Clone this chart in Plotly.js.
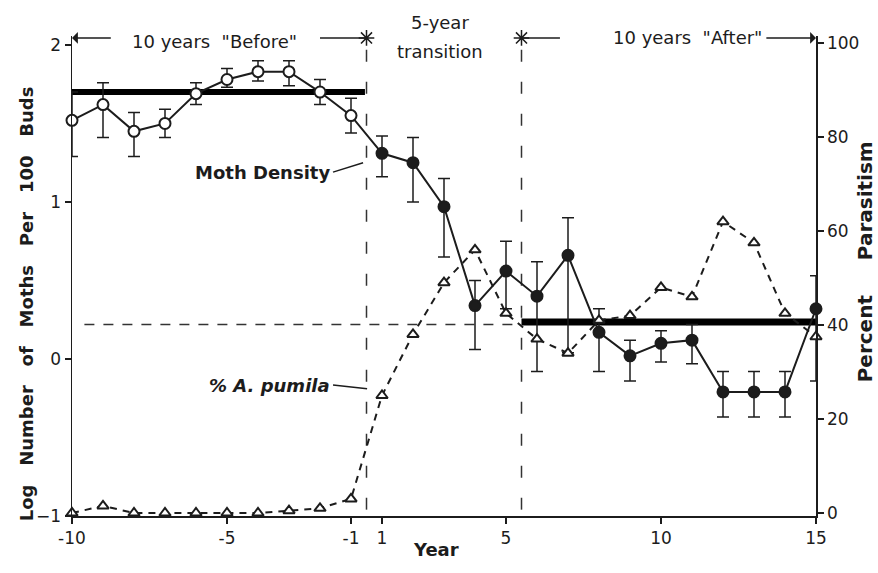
<!DOCTYPE html>
<html>
<head>
<meta charset="utf-8">
<script src="https://cdn.plot.ly/plotly-3.0.1.min.js"></script>
<style>html,body{margin:0;padding:0;background:#fff;}#chart{width:878px;height:573px;}</style>
</head>
<body>
<div id="chart"></div>
<script>
// ---- data ----
const years = [-10,-9,-8,-7,-6,-5,-4,-3,-2,-1,1,2,3,4,5,6,7,8,9,10,11,12,13,14,15];
const mothDensity = [1.52,1.62,1.45,1.50,1.69,1.78,1.83,1.83,1.70,1.55,
                     1.31,1.25,0.97,0.34,0.56,0.40,0.66,0.17,0.02,0.10,0.12,-0.21,-0.21,-0.21,0.32];
const mothErrPlus = [0.18,0.14,0.12,0.09,0.07,0.07,0.07,0.07,0.08,0.11,
                     0.11,0.16,0.18,0.16,0.19,0.22,0.24,0.15,0.10,0.08,0.10,0.13,0.13,0.13,0.21];
const mothErrMinus = [0.23,0.21,0.16,0.09,0.07,0.05,0.06,0.09,0.08,0.11,
                      0.15,0.25,0.32,0.28,0.24,0.48,0.62,0.25,0.16,0.12,0.15,0.16,0.16,0.16,0.46];
const pctPumila = [0,1.5,0,0,0,0,0,0.5,1,3,
                   25,38,49,56,42.5,37,34,41,42,48,46,62,57.5,42.5,37.5];
const beforeMean = 1.70;
const afterMean = 0.235;
const refLevel = 0.22;
const tickYears = [-10,-5,-1,1,5,10,15];

// position on the axis (no year 0)
const pos = y => (y < 0 ? y + 10 : y + 9);
const xs = years.map(pos);
const transStart = (pos(-1) + pos(1)) / 2;
const transEnd = (pos(5) + pos(6)) / 2;
const xMin = pos(years[0]), xMax = pos(years[years.length-1]);
const hdrY = 2.045;

const F = 'DejaVu Sans';
const ink = '#1c1c1c';
const sp = '\u00a0\u00a0\u00a0';

const traces = [
  {
    x: xs, y: pctPumila, yaxis: 'y2', type: 'scatter', mode: 'lines+markers',
    line: {color: ink, width: 2, dash: '7px,6px'},
    marker: {symbol: 'triangle-up', size: 10, color: '#fff', line: {color: ink, width: 2}},
    cliponaxis: false, hoverinfo: 'skip'
  },
  {
    x: xs, y: mothDensity, type: 'scatter', mode: 'lines+markers',
    line: {color: ink, width: 2},
    marker: {symbol: 'circle', size: 11,
             color: years.map(y => y < 0 ? '#fff' : ink),
             line: {color: ink, width: 2}},
    error_y: {type: 'data', symmetric: false, array: mothErrPlus, arrayminus: mothErrMinus,
              color: ink, thickness: 1.5, width: 6},
    cliponaxis: false, hoverinfo: 'skip'
  },
  {
    x: [transStart, transEnd], y: [hdrY, hdrY], type: 'scatter', mode: 'markers',
    marker: {symbol: 'asterisk-open', size: 13, color: ink, line: {color: ink, width: 1.5}},
    cliponaxis: false, hoverinfo: 'skip'
  }
];

const shapes = [
  {type:'line', xref:'x', yref:'y', x0:transStart, x1:transStart, y0:1.97, y1:-1, layer:'below',
   line:{color:'#333', width:1.5, dash:'12px,20px'}},
  {type:'line', xref:'x', yref:'y', x0:transEnd, x1:transEnd, y0:1.97, y1:-1, layer:'below',
   line:{color:'#333', width:1.5, dash:'12px,20px'}},
  {type:'line', xref:'x', yref:'y', x0:xMin+0.4, x1:transEnd, y0:refLevel, y1:refLevel, layer:'below',
   line:{color:'#333', width:1.5, dash:'10px,9px'}},
  {type:'line', xref:'x', yref:'y', x0:xMin, x1:transStart - 0.05, y0:beforeMean, y1:beforeMean, layer:'below',
   line:{color:'#000', width:6}},
  {type:'line', xref:'x', yref:'y', x0:transEnd, x1:xMax, y0:afterMean, y1:afterMean, layer:'below',
   line:{color:'#000', width:7}},
  // header connecting lines
  {type:'line', xref:'x', yref:'y', x0:8.0, x1:transStart, y0:hdrY, y1:hdrY, line:{color:ink, width:1.5}},
  {type:'line', xref:'x', yref:'y', x0:transEnd, x1:15.74, y0:hdrY, y1:hdrY, line:{color:ink, width:1.5}},
  // label leader lines
  {type:'line', xref:'x', yref:'y', x0:8.42, x1:9.39, y0:1.19, y1:1.25, line:{color:ink, width:1.5}},
  {type:'line', xref:'x', yref:'y', x0:8.42, x1:9.52, y0:-0.166, y1:-0.19, line:{color:ink, width:1.5}}
];

const tf = {family: F, size: 18, color: ink};
const annotations = [
  {x:xMin, y:hdrY, ax:1.3, ay:hdrY, xref:'x', yref:'y', axref:'x', ayref:'y', text:'',
   showarrow:true, arrowhead:1, arrowsize:1.3, arrowwidth:1.5, arrowcolor:ink},
  {x:xMax, y:hdrY, ax:22.35, ay:hdrY, xref:'x', yref:'y', axref:'x', ayref:'y', text:'',
   showarrow:true, arrowhead:1, arrowsize:1.3, arrowwidth:1.5, arrowcolor:ink},
  {x:4.6, y:0.9875, xref:'x', yref:'paper', yanchor:'middle', text:'10 years\u00a0 "Before"', showarrow:false, font:tf},
  {x:11.87, y:1.029, xref:'x', yref:'paper', yanchor:'middle', text:'5-year', showarrow:false, font:tf},
  {x:11.87, y:0.967, xref:'x', yref:'paper', yanchor:'middle', text:'transition', showarrow:false, font:tf},
  {x:19.87, y:0.996, xref:'x', yref:'paper', yanchor:'middle', text:'10 years\u00a0 "After"', showarrow:false, font:tf},
  {x:8.38, y:1.19, xref:'x', yref:'y', text:'<b>Moth Density</b>', showarrow:false, xanchor:'right', font:tf},
  {x:8.38, y:-0.17, xref:'x', yref:'y', text:'<b><i>% A. pumila</i></b>', showarrow:false, xanchor:'right', font:tf},
  {x:-0.078, y:0.442, xref:'paper', yref:'paper', textangle:-90, showarrow:false,
   text:'<b>Log'+sp+'Number'+sp+'of'+sp+'Moths'+sp+'Per'+sp+'100'+sp+'Buds</b>', font:{family:F, size:18, color:ink}},
  {x:1.085, y:0.529, xref:'paper', yref:'paper', textangle:-90, showarrow:false,
   text:'<b>Percent\u00a0\u00a0\u00a0\u00a0\u00a0Parasitism</b>', font:{family:F, size:20, color:ink}},
  {x:0.489, y:-0.096, xref:'paper', yref:'paper', showarrow:false,
   text:'<b>Year</b>', font:{family:F, size:18, color:ink}}
];

const tickf = {family:F, size:17, color:ink};
const layout = {
  width: 878, height: 573,
  margin: {l:72, r:62, t:36, b:57},
  paper_bgcolor:'#fff', plot_bgcolor:'#fff',
  showlegend: false,
  xaxis: {range:[xMin, xMax], tickvals: tickYears.map(pos), ticktext: tickYears.map(String),
          showgrid:false, zeroline:false, showline:true, linecolor:ink, linewidth:1.5,
          ticks:'outside', ticklen:6, tickcolor:ink, tickwidth:1.5, tickfont:tickf},
  yaxis: {range:[-1, 2.057], tickvals:[-1,0,1,2], showgrid:false, zeroline:false,
          showline:true, linecolor:ink, linewidth:1.5, ticks:'outside', ticklen:6, tickcolor:ink, tickwidth:1.5,
          tickfont:tickf},
  yaxis2: {range:[-0.64, 101.5], overlaying:'y', side:'right', tickvals:[0,20,40,60,80,100],
           showgrid:false, zeroline:false, showline:true, linecolor:ink, linewidth:1.5,
           ticks:'outside', ticklen:6, tickcolor:ink, tickwidth:1.5, tickfont:tickf},
  shapes: shapes,
  annotations: annotations
};

Plotly.newPlot('chart', traces, layout, {staticPlot:true});
</script>
</body>
</html>
